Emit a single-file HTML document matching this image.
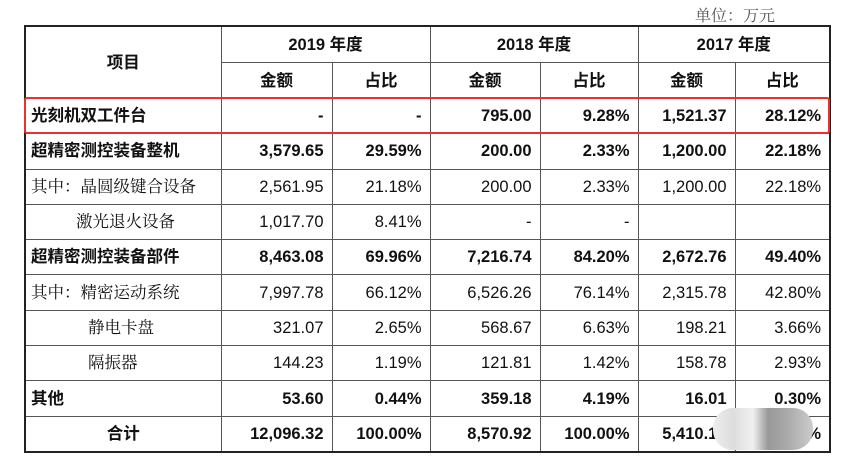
<!DOCTYPE html>
<html><head><meta charset="utf-8"><style>
body{margin:0;width:851px;height:463px;background:#fff;position:relative;overflow:hidden;font-family:"Liberation Sans","Noto Sans CJK SC",sans-serif;color:#111}
#unit{position:absolute;left:695px;top:3px;font-size:16px;color:#555;font-family:"Liberation Serif","Noto Serif CJK SC",serif}
table{position:absolute;left:24px;top:25px;width:805px;border-collapse:collapse;table-layout:fixed;border:2px solid #222}
td{border:1px solid #555;font-size:16.5px;padding:0 8px;height:34.3px;text-align:right;white-space:nowrap;overflow:hidden;line-height:18px}
td.l{text-align:left;padding-left:5px}
td.s{font-family:"Liberation Serif","Noto Serif CJK SC",serif}
tr.h td{text-align:center;font-weight:bold;height:35px}
tr.b td{font-weight:bold}
td.c{text-align:center;font-weight:bold}
#red{position:absolute;left:24px;top:97px;width:802px;height:33px;border:2.5px solid #e8322a;border-radius:3px}
#blur{position:absolute;left:713px;top:408px;width:100px;height:42px;border-radius:20px;background:linear-gradient(90deg,#eee,#ddd 20%,#f0f0f0 40%,#999 55%,#aaa 75%,#ccc)}
</style></head><body>
<div id="unit">单位：万元</div>
<table>
<colgroup><col style="width:196px"><col style="width:111px"><col style="width:98px"><col style="width:110px"><col style="width:98px"><col style="width:97px"><col style="width:95px"></colgroup>
<tr class="h"><td rowspan="2">项目</td><td colspan="2">2019 年度</td><td colspan="2">2018 年度</td><td colspan="2">2017 年度</td></tr>
<tr class="h"><td>金额</td><td>占比</td><td>金额</td><td>占比</td><td>金额</td><td>占比</td></tr>
<tr class="b"><td class="l">光刻机双工件台</td><td>-</td><td>-</td><td>795.00</td><td>9.28%</td><td>1,521.37</td><td>28.12%</td></tr>
<tr class="b"><td class="l">超精密测控装备整机</td><td>3,579.65</td><td>29.59%</td><td>200.00</td><td>2.33%</td><td>1,200.00</td><td>22.18%</td></tr>
<tr><td class="l s">其中：晶圆级键合设备</td><td>2,561.95</td><td>21.18%</td><td>200.00</td><td>2.33%</td><td>1,200.00</td><td>22.18%</td></tr>
<tr><td class="l s" style="padding-left:50px">激光退火设备</td><td>1,017.70</td><td>8.41%</td><td>-</td><td>-</td><td></td><td></td></tr>
<tr class="b"><td class="l">超精密测控装备部件</td><td>8,463.08</td><td>69.96%</td><td>7,216.74</td><td>84.20%</td><td>2,672.76</td><td>49.40%</td></tr>
<tr><td class="l s">其中：精密运动系统</td><td>7,997.78</td><td>66.12%</td><td>6,526.26</td><td>76.14%</td><td>2,315.78</td><td>42.80%</td></tr>
<tr><td class="l s" style="padding-left:62px">静电卡盘</td><td>321.07</td><td>2.65%</td><td>568.67</td><td>6.63%</td><td>198.21</td><td>3.66%</td></tr>
<tr><td class="l s" style="padding-left:62px">隔振器</td><td>144.23</td><td>1.19%</td><td>121.81</td><td>1.42%</td><td>158.78</td><td>2.93%</td></tr>
<tr class="b"><td class="l">其他</td><td>53.60</td><td>0.44%</td><td>359.18</td><td>4.19%</td><td>16.01</td><td>0.30%</td></tr>
<tr class="b"><td class="c">合计</td><td>12,096.32</td><td>100.00%</td><td>8,570.92</td><td>100.00%</td><td>5,410.13</td><td>100.00%</td></tr>
</table>
<div id="red"></div>
<div id="blur"></div>
</body></html>
